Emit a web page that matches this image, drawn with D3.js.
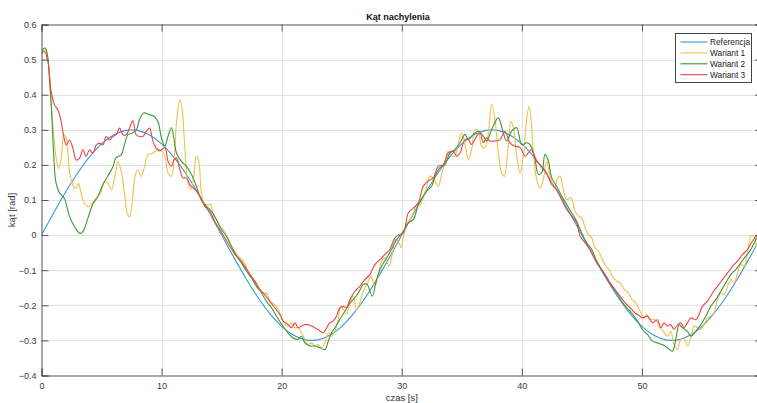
<!DOCTYPE html>
<html><head><meta charset="utf-8">
<script src="https://cdn.jsdelivr.net/npm/d3@7"></script>
<style>
html,body{margin:0;padding:0;background:#fff;}
svg{display:block;font-family:"Liberation Sans",Arial,Helvetica,sans-serif;}
</style></head>
<body>
<svg id="chart" width="757" height="403"></svg>
<script>
// ---- data ----
const title = "Kąt nachylenia";
const xLabel = "czas [s]";
const yLabel = "kąt [rad]";
const seriesNames = ["Referencja", "Wariant 1", "Wariant 2", "Wariant 3"];
const xTicks = [0, 10, 20, 30, 40, 50, 60];
const yTicks = [-0.4, -0.3, -0.2, -0.1, 0, 0.1, 0.2, 0.3, 0.4, 0.5, 0.6];

const refT = [0,1,2,3,4,5,6,7,8,9,10,11,12,13,14,15,16,17,18,19,20,21,22,23,24,25,26,27,28,29,30,
  31,32,33,34,35,36,37,38,39,40,41,42,43,44,45,46,47,48,49,50,51,52,53,54,55,56,57,58,59,60];
const refV = [0,0.0624,0.1220,0.1763,0.2229,0.2598,0.2853,0.2984,0.2984,0.2853,0.2598,0.2229,0.1763,0.1220,0.0624,0,
  -0.0624,-0.1220,-0.1763,-0.2229,-0.2598,-0.2853,-0.2984,-0.2984,-0.2853,-0.2598,-0.2229,-0.1763,-0.1220,-0.0624,0,
  0.0624,0.1220,0.1763,0.2229,0.2598,0.2853,0.2984,0.2984,0.2853,0.2598,0.2229,0.1763,0.1220,0.0624,0,
  -0.0624,-0.1220,-0.1763,-0.2229,-0.2598,-0.2853,-0.2984,-0.2984,-0.2853,-0.2598,-0.2229,-0.1763,-0.1220,-0.0624,0];

const w1T = [0,0.25,0.47,0.67,0.94,1.22,1.42,1.64,1.86,2.06,2.33,2.61,2.89,3.08,3.3,3.58,3.86,4.14,4.42,4.69,4.97,5.25,5.53,5.81,6.14,6.36,6.64,6.92,7.14,7.33,7.56,7.81,8.03,8.31,8.58,8.86,9.28,9.69,9.99,10.27,10.54,10.82,11.04,11.24,11.52,11.71,11.93,12.15,12.43,12.68,12.9,13.1,13.32,13.6,13.88,14.1,14.29,14.57,14.85,15.13,15.54,15.96,16.38,16.79,17.21,17.63,18.04,18.46,18.74,19.02,19.43,19.71,19.99,20.27,20.54,20.82,21.1,21.38,21.65,21.93,22.21,22.49,22.76,23.04,23.32,23.6,23.88,24.15,24.43,24.71,24.93,25.13,25.4,25.68,25.96,26.24,26.51,26.79,27.15,27.43,27.76,28.04,28.32,28.65,28.93,29.21,29.49,29.77,29.93,30.13,30.4,30.68,30.96,31.24,31.51,31.79,32.07,32.35,32.71,33.04,33.32,33.6,33.88,34.15,34.43,34.71,34.99,35.27,35.54,35.82,36.1,36.38,36.65,36.93,37.21,37.49,37.76,38.04,38.32,38.54,38.82,39.1,39.32,39.57,39.85,40.13,40.4,40.6,40.77,40.96,41.24,41.52,41.79,42.07,42.35,42.71,42.99,43.18,43.46,43.74,44.1,44.43,44.71,44.99,45.27,45.54,45.82,46.1,46.38,46.65,46.99,47.26,47.54,47.9,48.18,48.54,48.88,49.15,49.49,49.77,50.18,50.4,50.68,50.96,51.24,51.51,51.79,52.13,52.4,52.68,52.96,53.24,53.51,53.79,54.07,54.35,54.63,54.9,55.18,55.46,55.74,56.01,56.29,56.57,56.85,57.13,57.4,57.68,57.96,58.24,58.51,58.79,59.07,59.35,59.57,60];
const w1V = [0.529,0.533,0.519,0.429,0.314,0.219,0.19,0.219,0.286,0.276,0.181,0.143,0.133,0.148,0.119,0.09,0.081,0.086,0.1,0.11,0.124,0.152,0.148,0.129,0.171,0.21,0.181,0.114,0.062,0.052,0.095,0.171,0.186,0.167,0.195,0.229,0.233,0.245,0.239,0.225,0.177,0.168,0.215,0.32,0.386,0.358,0.253,0.158,0.13,0.168,0.225,0.21,0.12,0.087,0.087,0.087,0.059,0.044,0.025,0.016,-0.013,-0.041,-0.06,-0.074,-0.103,-0.127,-0.146,-0.165,-0.165,-0.189,-0.198,-0.212,-0.236,-0.255,-0.259,-0.25,-0.264,-0.264,-0.278,-0.297,-0.312,-0.307,-0.316,-0.312,-0.321,-0.307,-0.278,-0.288,-0.274,-0.24,-0.203,-0.212,-0.226,-0.193,-0.174,-0.212,-0.193,-0.16,-0.136,-0.117,-0.146,-0.117,-0.074,-0.065,-0.089,-0.055,-0.013,-0.022,-0.036,-0.008,0.03,0.044,0.063,0.087,0.087,0.106,0.139,0.168,0.158,0.139,0.173,0.21,0.239,0.225,0.225,0.263,0.291,0.258,0.215,0.244,0.301,0.296,0.253,0.249,0.291,0.372,0.329,0.234,0.177,0.168,0.234,0.324,0.301,0.225,0.177,0.225,0.329,0.367,0.329,0.234,0.158,0.134,0.158,0.21,0.168,0.134,0.163,0.168,0.13,0.101,0.106,0.068,0.054,0.049,0.02,0.002,-0.008,-0.036,-0.046,-0.065,-0.089,-0.098,-0.117,-0.131,-0.136,-0.155,-0.165,-0.184,-0.193,-0.212,-0.236,-0.226,-0.24,-0.24,-0.245,-0.264,-0.274,-0.288,-0.274,-0.312,-0.326,-0.297,-0.293,-0.316,-0.293,-0.259,-0.264,-0.269,-0.255,-0.236,-0.231,-0.221,-0.184,-0.165,-0.169,-0.146,-0.127,-0.136,-0.108,-0.084,-0.089,-0.051,-0.003,-0.003,-0.032,-0.04];

const w2T = [0,0.3,0.5,0.8,1.0,1.2,1.5,1.9,2.3,2.75,3.2,3.45,3.9,4.3,4.7,5.1,5.5,5.95,6.2,6.65,6.9,7.2,7.5,7.9,8.2,8.5,9.0,9.4,9.71,10.0,10.27,10.54,10.82,11.04,11.24,11.65,12.07,12.49,12.9,13.3,13.74,14.15,14.57,14.99,15.4,15.82,16.24,16.65,17.07,17.49,17.9,18.32,18.74,19.15,19.57,20.1,20.54,20.96,21.38,21.65,21.93,22.35,22.76,23.18,23.6,23.88,24.15,24.43,24.85,25.27,25.68,25.96,26.38,26.79,27.1,27.54,27.9,28.32,28.74,29.15,29.57,30.13,30.54,30.96,31.38,31.79,32.21,32.49,32.77,33.18,33.6,34.02,34.43,34.85,35.27,35.54,35.96,36.38,36.79,37.07,37.49,38.04,38.46,38.74,39.15,39.57,39.99,40.4,40.68,41.1,41.38,41.65,41.93,42.21,42.49,42.9,43.32,43.74,44.15,44.57,44.99,45.4,45.82,46.24,46.65,47.07,47.49,47.9,48.32,48.74,49.15,49.57,50.04,50.46,50.88,51.29,51.71,52.13,52.54,52.82,53.1,53.38,53.79,54.07,54.49,54.9,55.32,55.74,56.15,56.57,56.99,57.4,57.82,58.24,58.65,59.07,59.49,60];
const w2V = [0.524,0.533,0.51,0.38,0.24,0.15,0.12,0.105,0.057,0.024,0.005,0.01,0.052,0.09,0.11,0.143,0.167,0.195,0.22,0.229,0.257,0.286,0.29,0.3,0.333,0.348,0.343,0.338,0.322,0.275,0.253,0.282,0.306,0.272,0.234,0.21,0.196,0.173,0.139,0.101,0.082,0.068,0.044,0.016,-0.003,-0.032,-0.06,-0.079,-0.103,-0.122,-0.146,-0.165,-0.189,-0.207,-0.231,-0.259,-0.279,-0.293,-0.297,-0.288,-0.307,-0.316,-0.316,-0.321,-0.326,-0.302,-0.278,-0.264,-0.24,-0.217,-0.193,-0.184,-0.165,-0.141,-0.14,-0.174,-0.127,-0.089,-0.065,-0.041,-0.013,0.011,0.035,0.044,0.087,0.111,0.13,0.139,0.168,0.192,0.201,0.234,0.244,0.263,0.287,0.272,0.287,0.296,0.282,0.268,0.301,0.334,0.291,0.268,0.296,0.306,0.258,0.263,0.258,0.215,0.173,0.177,0.23,0.211,0.163,0.139,0.111,0.087,0.063,0.039,0.006,-0.022,-0.041,-0.074,-0.098,-0.122,-0.146,-0.165,-0.189,-0.207,-0.222,-0.241,-0.269,-0.283,-0.302,-0.307,-0.312,-0.321,-0.331,-0.297,-0.255,-0.264,-0.274,-0.288,-0.274,-0.255,-0.231,-0.202,-0.184,-0.16,-0.136,-0.112,-0.098,-0.079,-0.06,-0.041,-0.013,0.01];

const w3T = [0,0.25,0.53,0.8,1.08,1.36,1.58,1.78,2.06,2.33,2.61,2.89,3.17,3.44,3.72,4.0,4.28,4.56,4.83,5.11,5.39,5.67,5.94,6.22,6.5,6.78,7.06,7.33,7.61,7.89,8.17,8.44,8.72,9.0,9.28,9.56,9.83,10.27,10.54,10.82,11.04,11.24,11.52,11.79,12.07,12.35,12.77,13.18,13.6,14.02,14.43,14.85,15.27,15.68,16.1,16.52,16.93,17.35,17.77,18.18,18.6,19.02,19.43,19.85,20.13,20.54,20.82,21.1,21.38,21.65,21.93,22.21,22.49,22.76,23.04,23.46,23.74,24.01,24.29,24.57,24.85,25.13,25.4,25.68,26.1,26.51,26.93,27.35,27.76,28.18,28.6,29.01,29.43,29.71,30.13,30.54,30.96,31.38,31.79,32.21,32.63,33.04,33.46,33.88,34.29,34.57,34.85,35.27,35.54,35.82,36.24,36.52,36.79,37.07,37.35,37.76,38.18,38.6,39.01,39.43,39.85,40.27,40.54,40.82,41.24,41.65,42.07,42.49,42.9,43.32,43.74,44.15,44.57,44.85,45.27,45.68,46.1,46.52,46.93,47.35,47.76,48.18,48.6,49.01,49.43,49.85,50.04,50.46,50.88,51.29,51.57,51.85,52.13,52.4,52.68,52.96,53.24,53.51,53.79,54.07,54.49,54.76,55.04,55.46,55.88,56.29,56.71,57.13,57.54,57.96,58.38,58.79,59.21,59.63,60];
const w3V = [0.519,0.524,0.495,0.41,0.371,0.357,0.333,0.295,0.257,0.271,0.248,0.214,0.219,0.243,0.224,0.243,0.233,0.257,0.262,0.257,0.281,0.271,0.281,0.286,0.305,0.286,0.286,0.305,0.326,0.286,0.281,0.281,0.295,0.305,0.267,0.248,0.24,0.249,0.21,0.196,0.215,0.22,0.187,0.163,0.163,0.144,0.13,0.111,0.082,0.068,0.039,0.016,-0.008,-0.032,-0.055,-0.07,-0.089,-0.112,-0.131,-0.155,-0.17,-0.189,-0.207,-0.226,-0.245,-0.255,-0.264,-0.25,-0.264,-0.259,-0.255,-0.255,-0.259,-0.264,-0.269,-0.278,-0.264,-0.25,-0.245,-0.231,-0.207,-0.203,-0.207,-0.184,-0.16,-0.146,-0.127,-0.112,-0.084,-0.07,-0.055,-0.041,-0.008,0.0,0.006,0.063,0.077,0.092,0.139,0.154,0.163,0.196,0.201,0.234,0.239,0.225,0.234,0.272,0.272,0.258,0.282,0.291,0.263,0.277,0.268,0.268,0.272,0.296,0.263,0.253,0.25,0.225,0.234,0.244,0.21,0.196,0.177,0.144,0.13,0.101,0.073,0.054,0.035,-0.003,-0.022,-0.041,-0.07,-0.093,-0.112,-0.136,-0.155,-0.174,-0.193,-0.207,-0.222,-0.231,-0.236,-0.231,-0.25,-0.241,-0.264,-0.25,-0.259,-0.255,-0.269,-0.255,-0.25,-0.264,-0.25,-0.236,-0.241,-0.226,-0.203,-0.188,-0.165,-0.146,-0.127,-0.108,-0.089,-0.074,-0.055,-0.041,-0.017,0.002,0.015];

const colors = ["#3c97d3", "#efc04a", "#3a993a", "#e8454a"];

// ---- chart ----
const svg = d3.select("#chart");
const L = 41.5, R = 762, T = 24.5, B = 375.5;
const x = d3.scaleLinear().domain([0, 60]).range([L, R]);
const y = d3.scaleLinear().domain([-0.4, 0.6]).range([B, T]);

svg.append("rect").attr("x", L).attr("y", T).attr("width", R - L).attr("height", B - T).attr("fill", "#fff");

// grid
const grid = svg.append("g").attr("stroke", "#e3e3e3").attr("stroke-width", 1);
grid.selectAll("line.gx").data(xTicks.slice(1, -1)).join("line")
  .attr("x1", d => Math.round(x(d)) + 0.5).attr("x2", d => Math.round(x(d)) + 0.5)
  .attr("y1", T).attr("y2", B);
grid.selectAll("line.gy").data(yTicks.slice(1, -1)).join("line")
  .attr("y1", d => Math.round(y(d)) + 0.5).attr("y2", d => Math.round(y(d)) + 0.5)
  .attr("x1", L).attr("x2", R);

// lines
const clip = svg.append("clipPath").attr("id", "clip").append("rect")
  .attr("x", L).attr("y", T).attr("width", R - L).attr("height", B - T);
const lineGen = d3.line().x(d => x(d[0])).y(d => y(d[1])).curve(d3.curveCatmullRom.alpha(0.5));
const allSeries = [
  d3.zip(refT, refV),
  d3.zip(w1T, w1V),
  d3.zip(w2T, w2V),
  d3.zip(w3T, w3V)
];
const plot = svg.append("g").attr("clip-path", "url(#clip)");
plot.selectAll("path").data(allSeries).join("path")
  .attr("d", d => lineGen(d))
  .attr("fill", "none")
  .attr("stroke", (d, i) => colors[i])
  .attr("stroke-width", 1.1)
  .attr("stroke-linejoin", "round");

// axes
const axisColor = "#555";
const fmt = d => (d === 0 ? "0" : d3.format("")(+d.toFixed(1)));
const gB = svg.append("g").attr("transform", `translate(0,${B})`)
  .call(d3.axisBottom(x).tickValues(xTicks).tickSize(-7).tickPadding(7).tickFormat(d3.format("d")));
const gT = svg.append("g").attr("transform", `translate(0,${T})`)
  .call(d3.axisTop(x).tickValues(xTicks).tickSize(-7).tickFormat(""));
const gL = svg.append("g").attr("transform", `translate(${L},0)`)
  .call(d3.axisLeft(y).tickValues(yTicks).tickSize(-7).tickPadding(5).tickFormat(fmt));
const gR = svg.append("g").attr("transform", `translate(${R},0)`)
  .call(d3.axisRight(y).tickValues(yTicks).tickSize(-7).tickFormat(""));
[gB, gT, gL, gR].forEach(g => {
  g.select(".domain").attr("stroke", axisColor).attr("stroke-width", 1);
  g.selectAll(".tick line").attr("stroke", axisColor);
  g.selectAll("text").attr("fill", "#3a3a3a").style("font-size", "9px")
    .style("font-family", "'Liberation Sans', Arial, sans-serif");
});

// titles
svg.append("text").attr("x", 398).attr("y", 20).attr("text-anchor", "middle")
  .style("font-size", "9px").style("font-weight", "bold").attr("fill", "#111").text(title);
svg.append("text").attr("x", (L + R) / 2).attr("y", 401).attr("text-anchor", "middle")
  .style("font-size", "9.5px").attr("fill", "#333").text(xLabel);
svg.append("text").attr("transform", `translate(15,210) rotate(-90)`)
  .attr("text-anchor", "middle").style("font-size", "9.5px").attr("fill", "#333").text(yLabel);

// legend
const lg = svg.append("g").attr("transform", "translate(675.5,33.5)");
lg.append("rect").attr("width", 76).attr("height", 49).attr("fill", "#fff")
  .attr("stroke", "#444").attr("stroke-width", 1);
seriesNames.forEach((name, i) => {
  const yy = 8.5 + i * 10.9;
  lg.append("line").attr("x1", 5).attr("x2", 32).attr("y1", yy).attr("y2", yy)
    .attr("stroke", colors[i]).attr("stroke-width", 1.1);
  lg.append("text").attr("x", 34.5).attr("y", yy + 3).style("font-size", "8.3px")
    .attr("fill", "#222").text(name);
});
</script>
</body></html>
